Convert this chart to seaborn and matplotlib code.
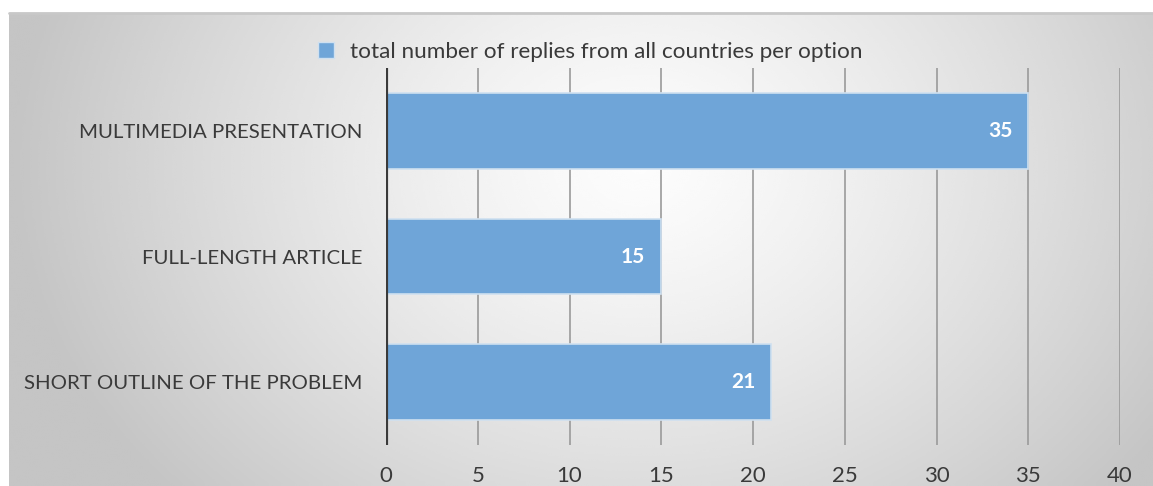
import numpy as np
import matplotlib
matplotlib.use("Agg")
import matplotlib.pyplot as plt
import seaborn as sns
import pandas as pd

categories = ["MULTIMEDIA PRESENTATION", "FULL-LENGTH ARTICLE", "SHORT OUTLINE OF THE PROBLEM"]
replies = [35, 15, 21]
x_ticks = [0, 5, 10, 15, 20, 25, 30, 35, 40]
series_name = "total number of replies from all countries per option"

BAR_COLOR = "#6fa5d8"
TEXT_COLOR = "#3a3a3a"

sns.set_theme(style="white")
plt.rcParams["font.family"] = ["Lato", "DejaVu Sans"]

W, H = 1153, 486
fig = plt.figure(figsize=(W / 100, H / 100), dpi=100, facecolor="white")

# Radial grey background panel
bg = fig.add_axes([9 / W, 0, 1 - 9 / W, 1 - 13 / H], zorder=0)
gh, gw = 240, 570
yy, xx = np.mgrid[0:gh, 0:gw]
cx, cy = gw * 0.55, gh * 0.32
r = np.sqrt(((xx - cx) / (gw * 0.55)) ** 2 + ((yy - cy) / (gh * 1.05)) ** 2)
shade = 0.99 - (0.99 - 0.77) * np.clip(r, 0, 1) ** 1.3
bg.imshow(shade, cmap="gray", vmin=0, vmax=1, aspect="auto", interpolation="bicubic")
bg.set_axis_off()
fig.add_artist(plt.Line2D([9 / W, 1], [1 - 13 / H, 1 - 13 / H], color="#c8c8c8", lw=2,
                          transform=fig.transFigure))

ax = fig.add_axes([386 / W, (H - 445) / H, (1120 - 386) / W, (445 - 68) / H], zorder=2)
ax.set_facecolor("none")

df = pd.DataFrame({"option": categories, "replies": replies})
sns.barplot(data=df, x="replies", y="option", orient="h", width=0.6, color=BAR_COLOR,
            saturation=1, edgecolor="#cfe0f0", linewidth=1.2, ax=ax, zorder=3)

ax.set_xlim(0, 40)
ax.set_xticks(x_ticks)
ax.set_xticklabels([str(t) for t in x_ticks])
for t in x_ticks[1:]:
    ax.axvline(t, color="#9a9a9a", lw=1.2, zorder=1)
ax.axvline(0, color="#3a3a3a", lw=3, zorder=4)
for s in ax.spines.values():
    s.set_visible(False)
ax.set_xlabel("")
ax.set_ylabel("")
ax.tick_params(axis="x", length=0, pad=15, labelsize=16, labelcolor=TEXT_COLOR)
ax.tick_params(axis="y", length=0, pad=17, labelsize=14.7, labelcolor=TEXT_COLOR)

for c in ax.containers:
    ax.bar_label(c, labels=[str(v) for v in replies], padding=-29, color="white",
                 fontweight="bold", fontsize=15)

legend_handle = matplotlib.patches.Patch(facecolor=BAR_COLOR, edgecolor="#cfe0f0", label=series_name)
fig.legend(handles=[legend_handle], loc="center", bbox_to_anchor=(590 / W, 1 - 52 / H),
           frameon=False, fontsize=16.2, handlelength=0.7, handleheight=0.7,
           handletextpad=0.7, labelcolor=TEXT_COLOR)

fig.savefig("out.png", dpi=100, facecolor="white")
